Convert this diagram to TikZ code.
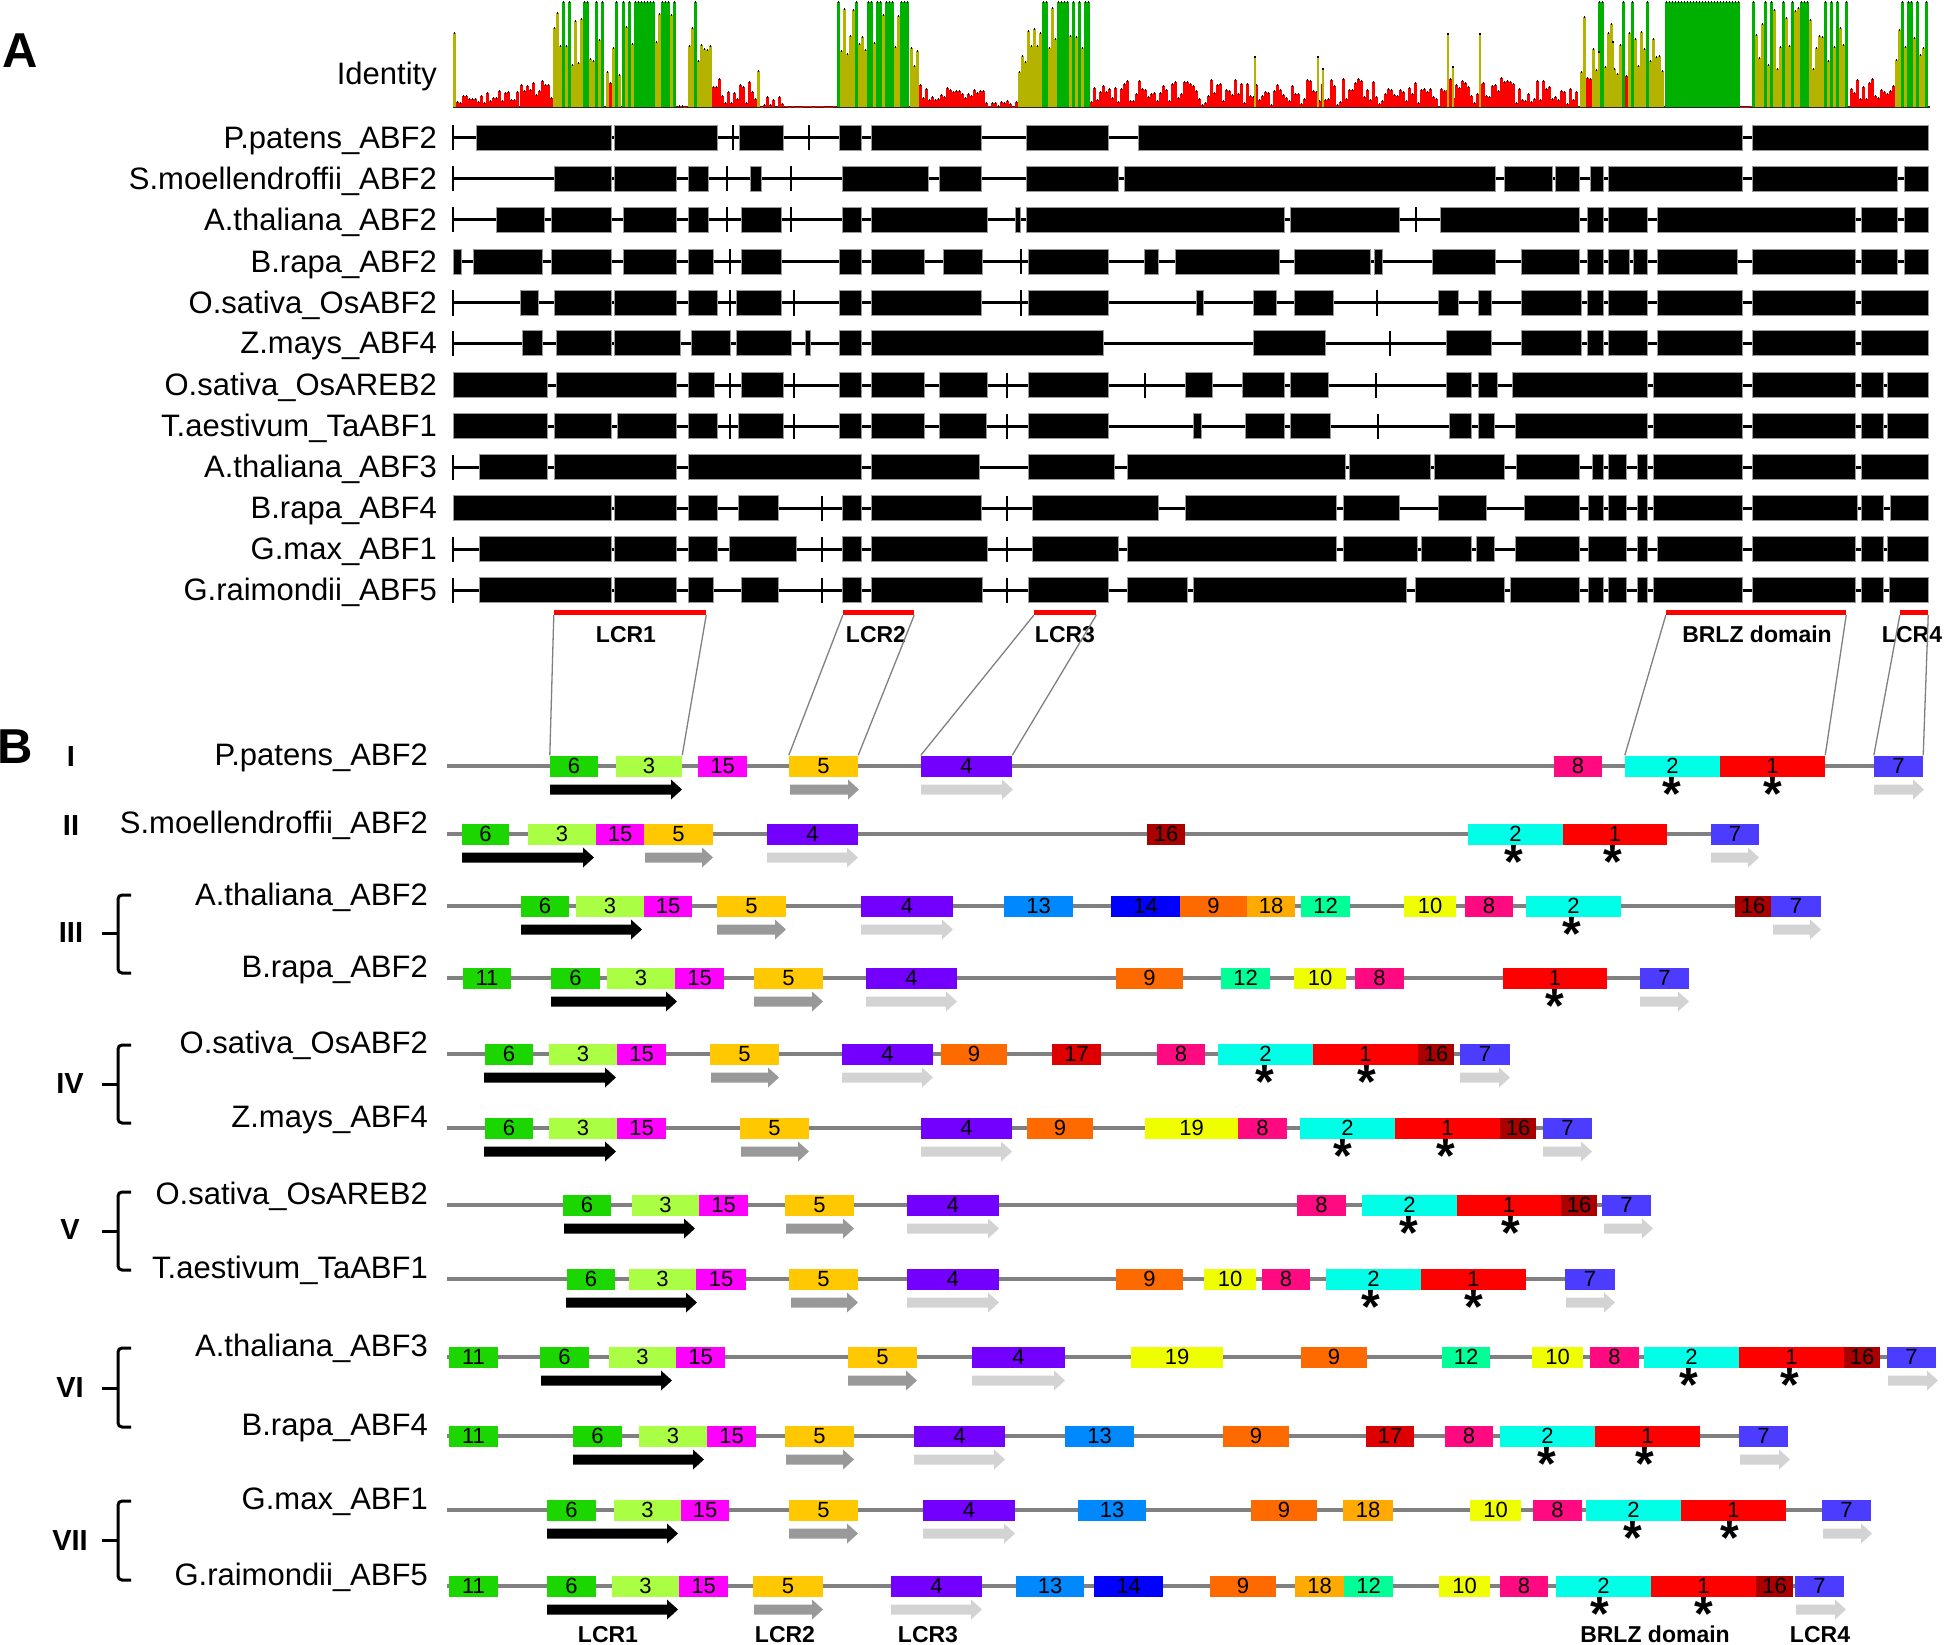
\documentclass[tikz,border=0pt]{standalone}
\usepackage{fontspec}
\setmainfont{Liberation Sans}
\definecolor{c1}{RGB}{255,0,0}
\definecolor{c2}{RGB}{0,255,230}
\definecolor{c3}{RGB}{170,255,68}
\definecolor{c4}{RGB}{115,0,255}
\definecolor{c5}{RGB}{255,200,0}
\definecolor{c6}{RGB}{28,214,0}
\definecolor{c7}{RGB}{76,60,255}
\definecolor{c8}{RGB}{255,10,128}
\definecolor{c9}{RGB}{255,106,0}
\definecolor{c10}{RGB}{240,255,0}
\definecolor{c11}{RGB}{28,214,0}
\definecolor{c12}{RGB}{0,255,150}
\definecolor{c13}{RGB}{0,136,255}
\definecolor{c14}{RGB}{0,0,255}
\definecolor{c15}{RGB}{255,0,255}
\definecolor{c16}{RGB}{170,0,0}
\definecolor{c17}{RGB}{222,0,0}
\definecolor{c18}{RGB}{255,170,0}
\definecolor{c19}{RGB}{240,255,0}
\definecolor{idr}{RGB}{255,0,0}
\definecolor{ido}{RGB}{180,180,0}
\definecolor{idg}{RGB}{0,176,0}
\definecolor{arrmid}{RGB}{153,153,153}
\definecolor{arrlt}{RGB}{211,211,211}
\definecolor{rowgray}{RGB}{128,128,128}
\tikzset{
  alab/.style={anchor=base east, inner sep=0pt, font=\fontsize{31}{31}\selectfont},
  blab/.style={anchor=base east, inner sep=0pt, font=\fontsize{31}{31}\selectfont},
  mbox/.style={inner sep=0pt, minimum height=21pt, font=\fontsize{22}{22}\selectfont},
  astx/.style={anchor=base, inner sep=0pt, font=\bfseries\fontsize{48}{48}\selectfont},
  roman/.style={inner sep=0pt, font=\bfseries\fontsize{29}{29}\selectfont},
  panel/.style={inner sep=0pt, font=\bfseries\fontsize{49}{49}\selectfont},
  lcrlab/.style={anchor=base, inner sep=0pt, font=\bfseries\fontsize{23}{23}\selectfont},
  redbar/.style={fill=red, inner sep=0pt, minimum height=5pt},
  conn/.style={rowgray, line width=1.3pt},
  rowline/.style={rowgray, line width=4pt},
  brk/.style={line width=3pt, rounded corners=4pt},
  intron/.style={line width=3pt}
}
\newcommand\arow[5]{%
  \draw[intron] (453,#2) -- (1928,#2);
  \foreach \t in {#4}{\fill (\t-1,#2-12.5) rectangle (\t+1,#2+12.5);}
  \foreach \a/\b in {#5}{\filldraw[fill=black, draw=black!40, line width=0.8pt] (\a,#2-12.5) rectangle (\b,#2+12.5);}
  \node[alab] (#1) at (437,#2+10.5) {#3};
}
\newcommand\brow[7]{%
  \draw[rowline] (447,#2) -- (#4,#2);
  \foreach \xa/\xb/\m [count=\k] in {#5}{%
    \pgfmathsetmacro\w{\xb-\xa}%
    \node[mbox, fill=c\m, minimum width=\w pt] (#1b\k) at ({(\xa+\xb)/2},#2) {\m};}
  \foreach \xa/\xb/\cl in {#6}{%
    \fill[\cl] (\xa,#2+18.5) -- (\xb-11,#2+18.5) -- (\xb-11,#2+13.5) -- (\xb,#2+23.5) -- (\xb-11,#2+33.5) -- (\xb-11,#2+28.5) -- (\xa,#2+28.5) -- cycle;}
  \foreach \s [count=\k] in {#7}{\node[astx] (#1s\k) at (\s,#2+44.5) {\raisebox{0pt}[0.62em][-0.43em]{*}};}
  \node[blab] (#1) at (428,#2-0.5) {#3};
}
\newcommand\brk[3]{%
  \draw[brk] (131,#1) -- (118,#1) -- (118,#2) -- (131,#2);
  \draw[brk] (118,#3) -- (102,#3);
}
\begin{document}
\begin{tikzpicture}[x=1pt,y=-1pt]
\fill[white] (0,0) rectangle (1946,1645);
\useasboundingbox (0,0) rectangle (1946,1645);
% ---------------- Panel A ----------------
\node[panel] (pA) at (20,51) {A};
\node[alab] (ident) at (437,85) {Identity};
\draw[line width=2pt, black!85] (453,107) -- (1930,107);
\pgfmathsetseed{7}
\foreach \xa/\xb/\lo/\hi/\pg in {453/456/74/74/0, 456/520/3/16/0, 520/553/8/28/0, 553/606/40/100/0.4, 606/622/20/80/0.1, 622/678/60/100/0.6, 678/688/0/2/0, 688/712/40/95/0.1, 712/757/2/30/0, 757/760/36/36/0, 760/785/0/12/0, 785/837/0/1/0, 837/910/50/100/0.5, 910/922/20/60/0, 922/985/5/20/0, 985/1018/0/8/0, 1018/1030/30/80/0, 1030/1090/55/100/0.5, 1090/1440/2/28/0, 1440/1580/3/30/0, 1580/1665/10/90/0.15, 1665/1740/105/105/1, 1740/1752/0/1/0, 1752/1850/35/100/0.4, 1850/1895/5/28/0, 1895/1930/40/100/0.5}{%
  \pgfmathtruncatemacro\n{max(0,(\xb-\xa)/3-1)}%
  \foreach \i in {0,...,\n}{%
    \pgfmathsetmacro\xx{\xa+3*\i}%
    \pgfmathsetmacro\hh{\lo+rnd*(\hi-\lo)}%
    \pgfmathsetmacro\rr{rnd}%
    \pgfmathtruncatemacro\cc{\rr<\pg ? 1 : (\hh>=32 ? 2 : 3)}%
    \ifnum\cc=1 \pgfmathsetmacro\hh{105}\fi
    \ifcase\cc\or\def\col{idg}\or\def\col{ido}\or\def\col{idr}\fi
    \fill[\col] (\xx,107) rectangle (\xx+3,107-\hh);
    \ifdim\hh pt>1pt \fill[black] (\xx+0.7,107-\hh-1) rectangle (\xx+2.3,107-\hh+1);\fi
  }%
}
\foreach \sx/\sh in {1254/50, 1317/50, 1322/38, 1447/73, 1452/40, 1479/73, 1598/55, 1612/65}{%
  \fill[ido] (\sx,107) rectangle (\sx+2,107-\sh);
  \fill[black] (\sx,107-\sh-1) rectangle (\sx+2,107-\sh+1);}
% alignment rows
\arow{aPP}{138}{P.patens\_ABF2}{453,733,809}{476/611,614/717,739/783,839/861,871/981,1026/1108,1138/1742,1752/1928}
\arow{aSM}{179}{S.moellendroffii\_ABF2}{453,727,791}{554/611,614/676,688/708,750/761,842/928,939/981,1026/1118,1124/1495,1504/1552,1555/1579,1590/1603,1608/1742,1752/1897,1904/1928}
\arow{aAT2}{220}{A.thaliana\_ABF2}{453,727,791,1416}{496/544,551/611,623/676,688/708,741/781,842/861,871/987,1015/1020,1026/1284,1290/1399,1440/1579,1587/1603,1608/1647,1657/1855,1861/1897,1904/1928}
\arow{aBR2}{262}{B.rapa\_ABF2}{730,1021}{453/461,473/542,551/611,623/676,688/713,741/781,839/861,871/924,943/982,1028/1108,1144/1158,1175/1279,1294/1370,1374/1382,1432/1495,1521/1579,1587/1603,1608/1629,1633/1647,1657/1737,1752/1855,1861/1897,1904/1928}
\arow{aOS2}{303}{O.sativa\_OsABF2}{453,730,794,1021,1377}{520/538,554/611,614/676,688/717,736/781,839/861,871/981,1028/1108,1196/1203,1253/1276,1294/1333,1438/1458,1478/1491,1521/1581,1587/1603,1608/1647,1657/1742,1752/1855,1861/1928}
\arow{aZM}{343}{Z.mays\_ABF4}{453,1390}{522/542,556/611,614/680,691/730,736/791,805/810,839/861,871/1103,1253/1325,1446/1491,1521/1581,1587/1603,1608/1647,1657/1742,1752/1855,1861/1928}
\arow{aOSA}{385}{O.sativa\_OsAREB2}{730,794,1007,1145,1376}{453/547,556/676,688/714,741/783,839/861,871/924,939/987,1028/1108,1185/1212,1242/1284,1290/1328,1446/1471,1478/1497,1512/1647,1653/1742,1752/1855,1861/1883,1887/1928}
\arow{aTA}{426}{T.aestivum\_TaABF1}{730,794,1007,1378}{453/547,554/611,617/676,688/717,738/783,839/861,871/924,939/986,1028/1108,1193/1201,1245/1284,1290/1330,1449/1471,1478/1494,1515/1647,1653/1742,1752/1855,1861/1883,1887/1928}
\arow{aAT3}{467}{A.thaliana\_ABF3}{453}{479/547,554/676,688/861,871/979,1028/1114,1127/1345,1349/1430,1434/1504,1516/1579,1592/1603,1608/1626,1637/1647,1653/1742,1752/1855,1861/1928}
\arow{aBR4}{508}{B.rapa\_ABF4}{822,1007}{453/611,614/676,688/717,738/778,842/861,871/981,1032/1158,1185/1336,1343/1399,1438/1486,1524/1579,1588/1603,1608/1626,1637/1647,1653/1742,1752/1857,1861/1883,1890/1928}
\arow{aGM}{549}{G.max\_ABF1}{453,822,1007}{479/611,614/676,688/717,729/796,842/861,871/987,1032/1118,1127/1336,1343/1417,1421/1471,1476/1494,1515/1579,1588/1626,1637/1647,1657/1742,1752/1855,1861/1883,1887/1928}
\arow{aGR}{590}{G.raimondii\_ABF5}{453,822,1007}{479/611,614/676,688/713,741/778,842/861,871/982,1028/1108,1127/1187,1193/1406,1415/1504,1510/1579,1588/1603,1608/1626,1637/1647,1653/1742,1752/1855,1861/1883,1889/1928}
% region bars
\node[redbar, minimum width=152pt] (lcr1) at (630,612.5) {};
\node[redbar, minimum width=71pt] (lcr2) at (878.5,612.5) {};
\node[redbar, minimum width=62pt] (lcr3) at (1065,612.5) {};
\node[redbar, minimum width=180pt] (brlz) at (1756,612.5) {};
\node[redbar, minimum width=28pt] (lcr4) at (1914,612.5) {};
\node[lcrlab] (tl1) at (626,642) {LCR1};
\node[lcrlab] (tl2) at (876,642) {LCR2};
\node[lcrlab] (tl3) at (1065,642) {LCR3};
\node[lcrlab] (tl4) at (1757,642) {BRLZ domain};
\node[lcrlab] (tl5) at (1912,642) {LCR4};
% ---------------- Panel B ----------------
\node[panel] (pB) at (15,747) {B};
\brow{pp}{766}{P.patens\_ABF2}{1923}{550/598/6,616/682/3,698/747/15,789/858/5,921/1012/4,1554/1602/8,1625/1720/2,1720/1825/1,1874/1923/7}{550/682/black,790/859/arrmid,921/1013/arrlt,1874/1924/arrlt}{1672,1773}
\brow{sm}{834}{S.moellendroffii\_ABF2}{1759}{462/509/6,528/596/3,596/644/15,644/713/5,767/858/4,1147/1185/16,1468/1563/2,1563/1667/1,1711/1759/7}{462/594/black,645/713/arrmid,767/858/arrlt,1711/1759/arrlt}{1514,1613}
\brow{atb}{906}{A.thaliana\_ABF2}{1821}{521/569/6,576/644/3,644/692/15,717/786/5,861/953/4,1004/1073/13,1111/1180/14,1180/1247/9,1247/1295/18,1301/1350/12,1404/1456/10,1465/1513/8,1526/1621/2,1735/1771/16,1771/1821/7}{521/642/black,717/786/arrmid,861/953/arrlt,1773/1821/arrlt}{1572}
\brow{brb}{978}{B.rapa\_ABF2}{1689}{463/511/11,551/600/6,607/675/3,675/724/15,754/823/5,866/957/4,1116/1183/9,1221/1270/12,1294/1346/10,1355/1404/8,1503/1607/1,1640/1689/7}{551/677/black,754/823/arrmid,866/957/arrlt,1640/1689/arrlt}{1555}
\brow{osb}{1054}{O.sativa\_OsABF2}{1510}{485/533/6,549/617/3,617/666/15,710/779/5,842/933/4,941/1007/9,1052/1101/17,1157/1205/8,1218/1313/2,1313/1418/1,1418/1454/16,1460/1510/7}{484/616/black,711/779/arrmid,842/933/arrlt,1460/1510/arrlt}{1265,1367}
\brow{zmb}{1128}{Z.mays\_ABF4}{1592}{485/533/6,549/617/3,617/666/15,740/809/5,921/1012/4,1027/1093/9,1145/1238/19,1238/1287/8,1300/1395/2,1395/1500/1,1500/1536/16,1543/1592/7}{484/616/black,741/809/arrmid,921/1012/arrlt,1543/1592/arrlt}{1343,1446}
\brow{oab}{1205}{O.sativa\_OsAREB2}{1651}{563/611/6,632/699/3,699/748/15,785/854/5,907/999/4,1297/1346/8,1362/1457/2,1457/1561/1,1561/1597/16,1602/1651/7}{564/695/black,786/854/arrmid,907/999/arrlt,1604/1653/arrlt}{1409,1511}
\brow{tab}{1279}{T.aestivum\_TaABF1}{1615}{567/615/6,629/696/3,696/746/15,789/858/5,907/999/4,1116/1183/9,1204/1256/10,1262/1310/8,1326/1421/2,1421/1526/1,1565/1615/7}{566/697/black,791/858/arrmid,907/999/arrlt,1566/1615/arrlt}{1371,1474}
\brow{a3b}{1357}{A.thaliana\_ABF3}{1936}{449/498/11,540/589/6,609/676/3,676/725/15,848/917/5,972/1065/4,1131/1223/19,1301/1367/9,1442/1490/12,1532/1583/10,1590/1639/8,1644/1739/2,1739/1844/1,1844/1880/16,1887/1936/7}{541/672/black,848/917/arrmid,972/1065/arrlt,1888/1938/arrlt}{1689,1790}
\brow{b4b}{1436}{B.rapa\_ABF4}{1788}{449/498/11,573/622/6,639/707/3,707/756/15,785/854/5,914/1005/4,1065/1134/13,1223/1289/9,1366/1414/17,1445/1493/8,1500/1595/2,1595/1700/1,1739/1788/7}{573/704/black,786/854/arrmid,914/1005/arrlt,1740/1790/arrlt}{1547,1645}
\brow{gmb}{1510}{G.max\_ABF1}{1871}{547/596/6,614/681/3,681/729/15,789/858/5,923/1015/4,1078/1146/13,1251/1317/9,1343/1393/18,1470/1521/10,1533/1582/8,1586/1681/2,1681/1786/1,1822/1871/7}{547/678/black,789/858/arrmid,923/1015/arrlt,1823/1872/arrlt}{1633,1730}
\brow{grb}{1586}{G.raimondii\_ABF5}{1844}{449/498/11,547/596/6,612/679/3,679/728/15,753/823/5,891/982/4,1016/1084/13,1094/1163/14,1210/1276/9,1295/1344/18,1344/1393/12,1439/1490/10,1500/1548/8,1556/1651/2,1651/1756/1,1756/1793/16,1795/1844/7}{547/678/black,754/823/arrmid,891/982/arrlt,1796/1846/arrlt}{1600,1704}
% connectors from panel A regions to P.patens motifs
\draw[conn] (lcr1.south west) -- (ppb1.north west);
\draw[conn] (lcr1.south east) -- (ppb2.north east);
\draw[conn] (lcr2.south west) -- (ppb4.north west);
\draw[conn] (lcr2.south east) -- (ppb4.north east);
\draw[conn] (lcr3.south west) -- (ppb5.north west);
\draw[conn] (lcr3.south east) -- (ppb5.north east);
\draw[conn] (brlz.south west) -- (ppb7.north west);
\draw[conn] (brlz.south east) -- (ppb8.north east);
\draw[conn] (lcr4.south west) -- (ppb9.north west);
\draw[conn] (lcr4.south east) -- (ppb9.north east);
% groups
\node[roman] (gI) at (71,757) {I};
\node[roman] (gII) at (71,826) {II};
\node[roman] (gIII) at (71,933) {III};
\node[roman] (gIV) at (70,1084) {IV};
\node[roman] (gV) at (70,1230) {V};
\node[roman] (gVI) at (70,1388) {VI};
\node[roman] (gVII) at (70,1541) {VII};
\brk{895}{973}{933}
\brk{1045}{1123}{1084}
\brk{1192}{1270}{1231}
\brk{1348}{1427}{1388}
\brk{1501}{1580}{1540}
% bottom labels
\node[lcrlab] (bl1) at (608,1642) {LCR1};
\node[lcrlab] (bl2) at (785,1642) {LCR2};
\node[lcrlab] (bl3) at (928,1642) {LCR3};
\node[lcrlab] (bl4) at (1655,1642) {BRLZ domain};
\node[lcrlab] (bl5) at (1820,1642) {LCR4};
\end{tikzpicture}
\end{document}
